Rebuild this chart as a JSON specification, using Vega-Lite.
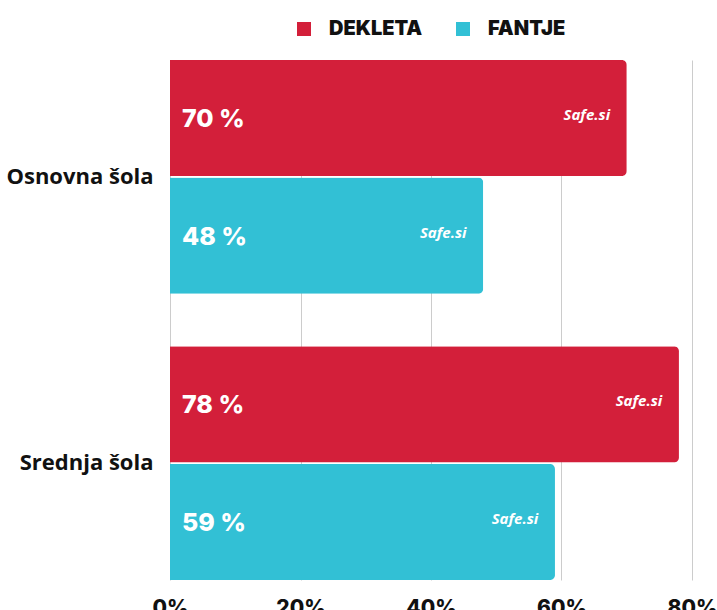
{
  "$schema": "https://vega.github.io/schema/vega-lite/v6.json",
  "width": 522,
  "height": 520,
  "autosize": "none",
  "padding": {"left": 170, "top": 60, "right": 25, "bottom": 30},
  "background": "white",
  "config": {"view": {"stroke": null}},
  "data": {
    "values": [
      {"sola": "Osnovna šola", "spol": "DEKLETA", "value": 0.70, "label": "70 %"},
      {"sola": "Osnovna šola", "spol": "FANTJE", "value": 0.48, "label": "48 %"},
      {"sola": "Srednja šola", "spol": "DEKLETA", "value": 0.78, "label": "78 %"},
      {"sola": "Srednja šola", "spol": "FANTJE", "value": 0.59, "label": "59 %"}
    ]
  },
  "encoding": {
    "y": {
      "field": "sola", "type": "nominal", "title": null,
      "scale": {"paddingInner": 0.184, "paddingOuter": 0},
      "axis": {"domain": false, "ticks": false, "labelPadding": 17, "labelFont": "Open Sans", "labelFontWeight": "bold", "labelFontSize": 22, "labelColor": "#111111"}
    },
    "yOffset": {"field": "spol", "type": "nominal", "scale": {"paddingInner": 0.013, "paddingOuter": 0}}
  },
  "layer": [
    {
      "mark": {"type": "bar", "cornerRadiusEnd": 5},
      "encoding": {
        "x": {
          "field": "value", "type": "quantitative", "title": null,
          "scale": {"domain": [0, 0.8], "nice": false},
          "axis": {"format": ".0%", "values": [0, 0.2, 0.4, 0.6, 0.8], "domain": false, "ticks": false, "labelPadding": 17, "labelFont": "Inter", "labelFontWeight": 800, "labelFontSize": 21, "labelColor": "#111111", "gridColor": "#cccccc", "gridWidth": 1, "labelFlush": false}
        },
        "color": {
          "field": "spol", "type": "nominal", "title": null,
          "scale": {"domain": ["DEKLETA", "FANTJE"], "range": ["#D31F3A", "#32C0D5"]},
          "legend": {"orient": "none", "legendX": 124, "legendY": -41, "direction": "horizontal", "symbolType": "square", "symbolSize": 196, "symbolStrokeWidth": 0, "labelFont": "Inter", "labelFontWeight": 900, "labelFontSize": 20, "labelColor": "#111111", "columnPadding": 30, "labelOffset": 15}
        }
      }
    },
    {
      "mark": {"type": "text", "align": "left", "baseline": "middle", "dx": 12, "dy": 1, "color": "white", "font": "Inter", "fontWeight": 800, "fontSize": 25},
      "encoding": {
        "x": {"datum": 0, "type": "quantitative"},
        "text": {"field": "label"}
      }
    },
    {
      "mark": {"type": "text", "align": "center", "baseline": "middle", "dx": -40, "dy": -3, "color": "white", "font": "Open Sans", "fontStyle": "italic", "fontWeight": "bold", "fontSize": 15},
      "encoding": {
        "x": {"field": "value", "type": "quantitative"},
        "text": {"value": "Safe.si"}
      }
    }
  ]
}
